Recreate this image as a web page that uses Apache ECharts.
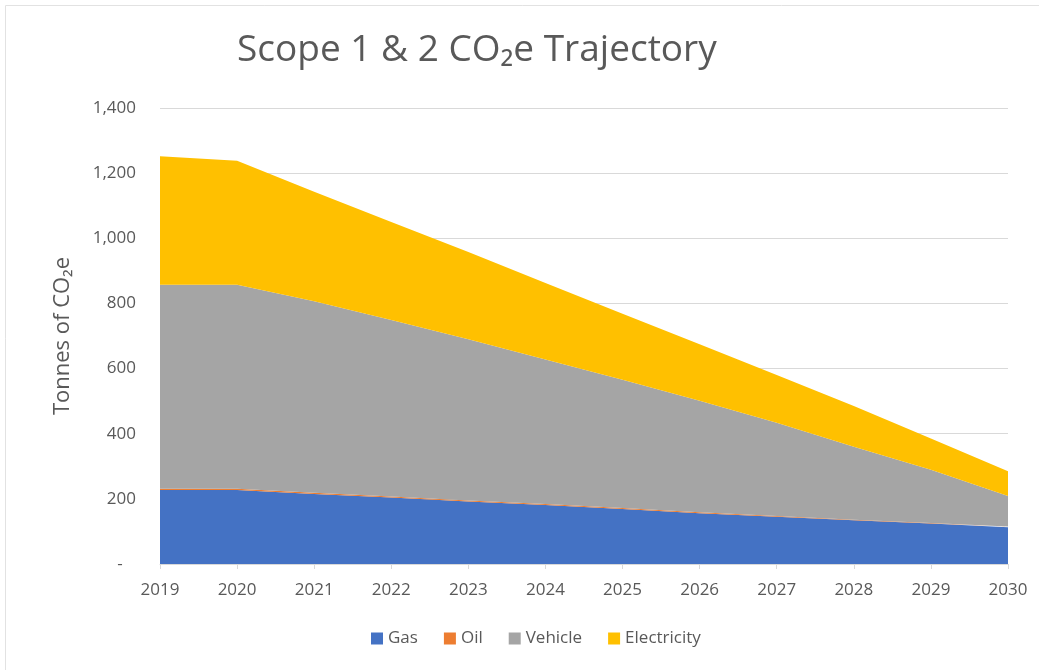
<!DOCTYPE html>
<html>
<head>
<meta charset="utf-8">
<script src="https://cdn.jsdelivr.net/npm/echarts@6/dist/echarts.min.js"></script>
<style>
  html, body { margin: 0; padding: 0; background: #fff; }
  #chart { width: 1039px; height: 670px; }
</style>
</head>
<body>
<div id="chart"></div>
<script>
// years on the x axis
const years = ['2019', '2020', '2021', '2022', '2023', '2024', '2025', '2026', '2027', '2028', '2029', '2030']
// tonnes CO2e per source (stacked)
const gas = [227, 227, 215, 204, 192, 181, 169, 156, 145, 134, 124, 113]
const oil = [4, 4, 4, 3, 3, 3, 3, 3, 2, 2, 2, 2]
const vehicle = [626, 626, 588, 542, 495, 444, 394, 342, 287, 224, 163, 94]
const electricity = [395, 381, 336, 301, 268, 235, 202, 174, 146, 125, 96, 76]

const seriesNames = ['Gas', 'Oil', 'Vehicle', 'Electricity']
const seriesColors = ['#4472C4', '#ED7D31', '#A5A5A5', '#FFC000']
const seriesData = [gas, oil, vehicle, electricity]

const textColor = '#595959'
const font = '"Open Sans", "Noto Sans", sans-serif'

let chart = echarts.init(document.getElementById('chart'))
let option = {
  backgroundColor: '#fff',
  animation: false,
  textStyle: { fontFamily: font },
  graphic: [
    {
      type: 'rect',
      shape: { x: 5.5, y: 5.5, width: 1100, height: 700 },
      style: { fill: 'none', stroke: '#e2e2e2', lineWidth: 1 }
    }
  ],
  title: {
    text: 'Scope 1 & 2 CO₂e Trajectory',
    left: 232,
    top: 27,
    textStyle: {
      color: textColor,
      fontSize: 37,
      fontWeight: 'normal',
      fontFamily: font
    }
  },
  legend: {
    data: seriesNames,
    bottom: 18,
    left: 366,
    icon: 'rect',
    itemWidth: 12,
    itemHeight: 12,
    itemGap: 26,
    textStyle: { color: textColor, fontSize: 17, fontFamily: font }
  },
  grid: {
    left: 160,
    right: 31,
    top: 108,
    bottom: 106
  },
  xAxis: {
    type: 'category',
    boundaryGap: false,
    data: years,
    axisLine: { lineStyle: { color: '#d9d9d9' } },
    axisTick: { show: true, length: 5, lineStyle: { color: '#d9d9d9' } },
    axisLabel: { color: textColor, fontSize: 17, margin: 18, fontFamily: font }
  },
  yAxis: {
    type: 'value',
    min: 0,
    max: 1400,
    interval: 200,
    name: 'Tonnes of CO₂e',
    nameLocation: 'middle',
    nameGap: 86,
    nameTextStyle: { color: textColor, fontSize: 22, fontFamily: font },
    axisLine: { show: false },
    axisTick: { show: false },
    splitLine: { lineStyle: { color: '#d9d9d9' } },
    axisLabel: {
      color: textColor,
      fontSize: 17,
      margin: 24,
      fontFamily: font,
      formatter: v => (v === 0 ? '-   ' : v.toLocaleString('en-US'))
    }
  },
  series: seriesNames.map((name, i) => ({
    name: name,
    type: 'line',
    stack: 'total',
    symbol: 'none',
    lineStyle: { width: 0 },
    itemStyle: { color: seriesColors[i] },
    areaStyle: { color: seriesColors[i], opacity: 1 },
    data: seriesData[i]
  }))
}
chart.setOption(option)
</script>
</body>
</html>
